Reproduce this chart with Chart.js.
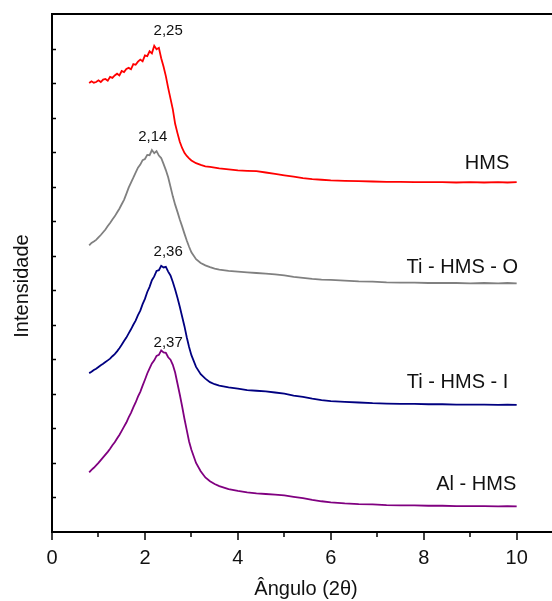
<!DOCTYPE html>
<html>
<head>
<meta charset="utf-8">
<script src="https://cdn.jsdelivr.net/npm/chart.js@4"></script>
<style>
  body { margin: 0; background: #fff; }
  #box { width: 552px; height: 601px; }
</style>
</head>
<body>
<div id="box"><canvas id="xrd" width="552" height="601"></canvas></div>
<script>
// ângulo 2θ (compartilhado pelas quatro amostras)
const angle = [0.80,0.85,0.90,0.95,1.00,1.05,1.10,1.15,1.20,1.25,1.30,1.35,1.40,1.45,1.50,1.55,1.60,1.65,1.70,1.75,1.80,1.85,1.90,1.95,2.00,2.05,2.10,2.15,2.20,2.25,2.30,2.35,2.40,2.45,2.50,2.55,2.60,2.65,2.70,2.75,2.80,2.85,2.90,2.95,3.00,3.10,3.20,3.30,3.40,3.50,3.60,3.80,4.00,4.20,4.40,4.60,4.80,5.00,5.20,5.40,5.60,5.80,6.00,6.30,6.60,6.90,7.20,7.50,7.80,8.10,8.40,8.70,9.00,9.30,9.60,9.80,10.00];

// intensidades (deslocadas, unidades arbitrárias)
const hms = [13.00,13.05,13.01,13.03,13.08,13.03,13.10,13.12,13.07,13.18,13.15,13.22,13.27,13.22,13.35,13.32,13.41,13.44,13.40,13.55,13.53,13.62,13.68,13.63,13.80,13.78,13.92,13.86,14.08,13.98,14.02,13.72,13.48,13.20,12.86,12.55,12.24,11.82,11.55,11.30,11.12,10.98,10.89,10.82,10.76,10.68,10.63,10.59,10.57,10.55,10.53,10.50,10.47,10.46,10.45,10.41,10.37,10.33,10.29,10.25,10.22,10.20,10.18,10.17,10.16,10.15,10.14,10.14,10.13,10.13,10.13,10.12,10.13,10.12,10.13,10.12,10.13];
const tiHmsO = [8.30,8.37,8.41,8.46,8.53,8.60,8.68,8.76,8.86,8.95,9.05,9.14,9.25,9.36,9.49,9.62,9.79,9.97,10.12,10.26,10.41,10.55,10.64,10.77,10.80,10.92,10.91,11.06,10.97,11.03,10.90,10.83,10.66,10.48,10.27,10.00,9.72,9.48,9.27,9.05,8.85,8.64,8.44,8.26,8.10,7.90,7.79,7.72,7.67,7.63,7.60,7.56,7.54,7.52,7.50,7.48,7.46,7.43,7.39,7.36,7.33,7.31,7.30,7.28,7.26,7.25,7.23,7.22,7.22,7.21,7.21,7.21,7.20,7.21,7.20,7.21,7.20];
const tiHmsI = [4.60,4.64,4.69,4.73,4.78,4.83,4.87,4.92,4.97,5.02,5.09,5.15,5.23,5.32,5.42,5.53,5.63,5.75,5.87,6.00,6.12,6.28,6.41,6.60,6.75,6.95,7.10,7.29,7.40,7.56,7.58,7.71,7.66,7.68,7.54,7.43,7.24,7.02,6.78,6.52,6.24,5.96,5.64,5.36,5.12,4.78,4.57,4.44,4.34,4.28,4.24,4.19,4.15,4.11,4.09,4.07,4.04,4.01,3.95,3.91,3.86,3.82,3.79,3.77,3.75,3.73,3.72,3.71,3.71,3.70,3.70,3.69,3.69,3.69,3.68,3.69,3.68];
const alHms = [1.73,1.80,1.86,1.93,2.00,2.08,2.16,2.24,2.32,2.41,2.51,2.60,2.71,2.81,2.93,3.05,3.17,3.32,3.45,3.61,3.75,3.92,4.06,4.24,4.41,4.59,4.74,4.88,4.97,5.10,5.13,5.26,5.20,5.19,5.06,4.99,4.84,4.62,4.30,3.98,3.64,3.28,2.95,2.62,2.38,2.00,1.76,1.58,1.47,1.39,1.33,1.24,1.19,1.15,1.12,1.10,1.08,1.06,1.02,0.98,0.93,0.89,0.86,0.83,0.81,0.80,0.78,0.77,0.77,0.76,0.76,0.75,0.75,0.75,0.74,0.75,0.74];

const sampleNames = ["HMS", "Ti - HMS - O", "Ti - HMS - I", "Al - HMS"];
const peakLabels = ["2,25", "2,14", "2,36", "2,37"];
const colors = ["#ff0000", "#808080", "#000080", "#800080"];

const fontName = '"Liberation Sans", Arial, sans-serif';

const toPoints = (ys) => angle.map((a, i) => ({ x: a, y: ys[i] }));

// desenha ticks, borda superior e textos
const extras = {
  id: "extras",
  afterDraw(chart) {
    const { ctx, chartArea } = chart;
    const xs = chart.scales.x;
    const ys = chart.scales.y;
    ctx.save();
    ctx.strokeStyle = "#000";
    // borda superior
    ctx.lineWidth = 2;
    ctx.beginPath();
    ctx.moveTo(chartArea.left - 1, chartArea.top);
    ctx.lineTo(chartArea.right, chartArea.top);
    ctx.stroke();
    // ticks do eixo x (para fora)
    ctx.lineWidth = 1.5;
    for (let v = 0; v <= 10; v++) {
      const px = Math.round(xs.getPixelForValue(v));
      const len = v % 2 === 0 ? 8 : 5;
      ctx.beginPath();
      ctx.moveTo(px, chartArea.bottom);
      ctx.lineTo(px, chartArea.bottom + len);
      ctx.stroke();
    }
    // ticks do eixo y (para dentro)
    for (let v = 1; v < 15; v++) {
      const py = Math.round(ys.getPixelForValue(v)) + 0.5;
      ctx.beginPath();
      ctx.moveTo(chartArea.left, py);
      ctx.lineTo(chartArea.left + 4, py);
      ctx.stroke();
    }
    // posição dos picos
    ctx.fillStyle = "#111";
    ctx.font = "15px " + fontName;
    ctx.textAlign = "center";
    ctx.textBaseline = "middle";
    const peakPos = [[2.5, 14.5], [2.17, 11.43], [2.5, 8.11], [2.5, 5.47]];
    peakLabels.forEach((t, i) => {
      ctx.fillText(t, xs.getPixelForValue(peakPos[i][0]), ys.getPixelForValue(peakPos[i][1]));
    });
    // nome das amostras
    ctx.font = "20px " + fontName;
    ctx.textAlign = "right";
    const namePos = [[9.84, 10.67], [10.03, 7.65], [9.82, 4.34], [9.99, 1.38]];
    sampleNames.forEach((t, i) => {
      ctx.fillText(t, xs.getPixelForValue(namePos[i][0]), ys.getPixelForValue(namePos[i][1]));
    });
    // títulos dos eixos
    ctx.textAlign = "center";
    ctx.fillText("Ângulo (2θ)", 306, 589);
    ctx.translate(22, 286);
    ctx.rotate(-Math.PI / 2);
    ctx.fillText("Intensidade", 0, 0);
    ctx.restore();
  },
};

new Chart(document.getElementById("xrd"), {
  type: "line",
  data: {
    datasets: [hms, tiHmsO, tiHmsI, alHms].map((ys, i) => ({
      label: sampleNames[i],
      data: toPoints(ys),
      borderColor: colors[i],
      backgroundColor: colors[i],
      borderWidth: 1.8,
      pointRadius: 0,
      tension: 0,
    })),
  },
  options: {
    responsive: false,
    devicePixelRatio: 1,
    animation: false,
    layout: { padding: { top: 14, right: 0, left: 0, bottom: 0 } },
    plugins: { legend: { display: false }, tooltip: { enabled: false } },
    scales: {
      x: {
        type: "linear",
        min: 0,
        max: 10.76,
        grid: { display: false, drawTicks: false },
        border: { display: true, color: "#000", width: 2 },
        afterBuildTicks: (axis) => {
          axis.ticks = axis.ticks.filter((t) => Number.isInteger(t.value) && t.value % 2 === 0 && t.value <= 10);
        },
        ticks: {
          stepSize: 1,
          includeBounds: false,
          autoSkip: false,
          padding: 14,
          color: "#111",
          font: { family: fontName, size: 20 },
          maxRotation: 0,
        },
        afterFit: (axis) => { axis.height = 69; },
      },
      y: {
        min: 0,
        max: 15,
        grid: { display: false, drawTicks: false },
        border: { display: true, color: "#000", width: 2 },
        ticks: { display: false },
        afterFit: (axis) => { axis.width = 52; },
      },
    },
  },
  plugins: [extras],
});
</script>
</body>
</html>
